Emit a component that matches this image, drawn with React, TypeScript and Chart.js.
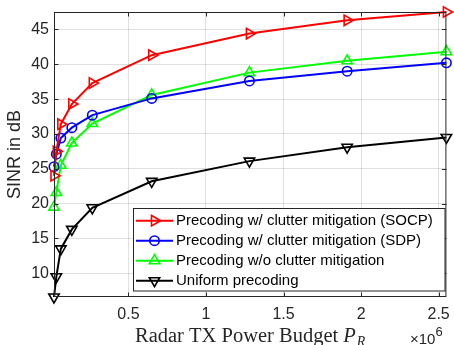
import { useEffect, useRef } from "react";
import { Chart, registerables } from "chart.js";

Chart.register(...registerables);

// ---- data ----
const xValues = [0.02e6, 0.035e6, 0.064e6, 0.135e6, 0.267e6, 0.65e6, 1.28e6, 1.91e6, 2.55e6];
const socp = [24.0, 27.5, 31.4, 34.3, 37.3, 41.3, 44.4, 46.3, 47.5];
const sdp = [25.3, 27.1, 29.4, 30.9, 32.7, 35.1, 37.6, 39.0, 40.2];
const noMitigation = [19.5, 21.6, 25.5, 28.7, 31.5, 35.6, 38.8, 40.5, 41.8];
const uniform = [6.6, 9.5, 13.5, 16.3, 19.4, 23.2, 26.1, 28.1, 29.5];
const seriesLabels = [
  "Precoding w/ clutter mitigation (SOCP)",
  "Precoding w/ clutter mitigation (SDP)",
  "Precoding w/o clutter mitigation",
  "Uniform precoding",
];
const xTicks = [0.5e6, 1e6, 1.5e6, 2e6, 2.5e6];
const yTicks = [10, 15, 20, 25, 30, 35, 40, 45];
const xMin = 0.02e6;
const xMax = 2.55e6;
const yMin = 6.6;
const yMax = 47.5;

const SANS = '"Liberation Sans", Arial, sans-serif';
const SERIF = '"Liberation Serif", "Times New Roman", serif';
const AXIS = "#262626";

function drawMarker(ctx: CanvasRenderingContext2D, style: string, rot: number, r: number, x: number, y: number) {
  ctx.beginPath();
  if (style === "circle") {
    ctx.arc(x, y, r, 0, Math.PI * 2);
  } else {
    let rad = (rot * Math.PI) / 180;
    ctx.moveTo(x + Math.sin(rad) * r, y - Math.cos(rad) * r);
    rad += (2 * Math.PI) / 3;
    ctx.lineTo(x + Math.sin(rad) * r, y - Math.cos(rad) * r);
    rad += (2 * Math.PI) / 3;
    ctx.lineTo(x + Math.sin(rad) * r, y - Math.cos(rad) * r);
    ctx.closePath();
  }
  ctx.stroke();
}

const decorPlugin = {
  id: "matlabDecor",
  afterDraw(chart: any) {
    const { ctx, chartArea: a, scales } = chart;
    const xs = scales.x;
    const ys = scales.y;
    ctx.save();
    // axes box
    ctx.strokeStyle = AXIS;
    ctx.lineWidth = 1;
    ctx.strokeRect(a.left + 0.5, a.top + 0.5, a.right - a.left - 1, a.bottom - a.top - 1);
    // inner ticks
    ctx.beginPath();
    const tl = 4.5;
    xTicks.forEach((v) => {
      const px = Math.round(xs.getPixelForValue(v)) + 0.5;
      ctx.moveTo(px, a.bottom);
      ctx.lineTo(px, a.bottom - tl);
      ctx.moveTo(px, a.top);
      ctx.lineTo(px, a.top + tl);
    });
    yTicks.forEach((v) => {
      const py = Math.round(ys.getPixelForValue(v)) + 0.5;
      ctx.moveTo(a.left, py);
      ctx.lineTo(a.left + tl, py);
      ctx.moveTo(a.right, py);
      ctx.lineTo(a.right - tl, py);
    });
    ctx.stroke();

    // legend
    const lx = 133.5, ly = 208.5, lw = 311.5, lh = 82.5;
    ctx.fillStyle = "#ffffff";
    ctx.fillRect(lx, ly, lw, lh);
    ctx.strokeStyle = AXIS;
    ctx.lineWidth = 1;
    ctx.strokeRect(lx, ly, lw, lh);
    ctx.font = `15px ${SANS}`;
    ctx.textBaseline = "middle";
    ctx.textAlign = "left";
    chart.data.datasets.forEach((ds: any, i: number) => {
      const ry = 220.7 + i * 20;
      ctx.strokeStyle = ds.borderColor;
      ctx.lineWidth = 2;
      ctx.beginPath();
      ctx.moveTo(136, ry);
      ctx.lineTo(173, ry);
      ctx.stroke();
      ctx.lineWidth = ds.pointBorderWidth;
      drawMarker(ctx, ds.pointStyle, ds.pointRotation || 0, ds.pointRadius, 154.5, ry);
      ctx.fillStyle = "#000000";
      ctx.fillText(ds.label, 176, ry + 0.5);
    });

    // x-axis title with math P_R
    ctx.fillStyle = AXIS;
    ctx.textBaseline = "alphabetic";
    const main = "Radar TX Power Budget ";
    ctx.font = `20.5px ${SERIF}`;
    const w1 = ctx.measureText(main).width;
    ctx.font = `italic 20.5px ${SERIF}`;
    const w2 = ctx.measureText("P").width;
    ctx.font = `italic 14px ${SERIF}`;
    const w3 = ctx.measureText("R").width;
    const cx = (a.left + a.right) / 2;
    let sx = cx - (w1 + w2 + w3 + 1) / 2;
    const base = 342;
    ctx.font = `20.5px ${SERIF}`;
    ctx.fillText(main, sx, base);
    sx += w1;
    ctx.font = `italic 20.5px ${SERIF}`;
    ctx.fillText("P", sx, base);
    sx += w2 + 1;
    ctx.font = `italic 14px ${SERIF}`;
    ctx.fillText("R", sx, base + 3.5);

    // exponent
    ctx.font = `15px ${SANS}`;
    ctx.fillStyle = AXIS;
    const ex = 410;
    ctx.fillText("\u00d710", ex, 344);
    const wE = ctx.measureText("\u00d710").width;
    ctx.font = `13px ${SANS}`;
    ctx.fillText("6", ex + wE, 336);
    ctx.restore();
  },
};

export default function App() {
  const ref = useRef<HTMLCanvasElement | null>(null);
  useEffect(() => {
    if (!ref.current) return;
    const mk = (vals: number[]) => vals.map((y, i) => ({ x: xValues[i], y }));
    const common = {
      borderWidth: 2,
      pointBorderWidth: 1.6,
      pointBackgroundColor: "rgba(0,0,0,0)",
      tension: 0,
      fill: false,
      clip: false as any,
    };
    const chart = new Chart(ref.current, {
      type: "line",
      data: {
        datasets: [
          { ...common, label: seriesLabels[0], data: mk(socp), borderColor: "#ff0000", pointBorderColor: "#ff0000", pointStyle: "triangle", pointRotation: 90, pointRadius: 6 },
          { ...common, label: seriesLabels[1], data: mk(sdp), borderColor: "#0000ff", pointBorderColor: "#0000ff", pointStyle: "circle", pointRadius: 4.7 },
          { ...common, label: seriesLabels[2], data: mk(noMitigation), borderColor: "#00ff00", pointBorderColor: "#00ff00", pointStyle: "triangle", pointRotation: 0, pointRadius: 6 },
          { ...common, label: seriesLabels[3], data: mk(uniform), borderColor: "#000000", pointBorderColor: "#000000", pointStyle: "triangle", pointRotation: 180, pointRadius: 6 },
        ] as any,
      },
      options: {
        animation: false,
        responsive: false,
        layout: { padding: { left: 0, right: 6, top: 12, bottom: 0 } },
        plugins: { legend: { display: false }, tooltip: { enabled: false } },
        scales: {
          x: {
            type: "linear",
            min: xMin,
            max: xMax,
            afterBuildTicks: (s: any) => {
              s.ticks = xTicks.map((v) => ({ value: v }));
            },
            afterFit: (s: any) => {
              s.height = 48;
              s.paddingLeft = 0;
              s.paddingRight = 0;
            },
            grid: { color: "rgba(38,38,38,0.14)", drawTicks: false },
            border: { display: false },
            ticks: {
              padding: 8,
              color: AXIS,
              font: { family: SANS, size: 16 },
              maxRotation: 0,
              autoSkip: false,
              callback: (v: any) => String(Number(v) / 1e6),
            },
          },
          y: {
            type: "linear",
            min: yMin,
            max: yMax,
            afterBuildTicks: (s: any) => {
              s.ticks = yTicks.map((v) => ({ value: v }));
            },
            afterFit: (s: any) => {
              s.width = 54;
              s.paddingTop = 0;
              s.paddingBottom = 0;
            },
            grid: { color: "rgba(38,38,38,0.14)", drawTicks: false },
            border: { display: false },
            title: {
              display: true,
              text: "SINR in dB",
              color: AXIS,
              font: { family: SANS, size: 18 },
              padding: { top: 4, bottom: 0 },
            },
            ticks: {
              padding: 5,
              color: AXIS,
              font: { family: SANS, size: 16 },
              autoSkip: false,
              callback: (v: any) => String(v),
            },
          },
        },
      },
      plugins: [decorPlugin],
    });
    return () => chart.destroy();
  }, []);
  return (
    <div style={{ position: "fixed", left: 0, top: 0, width: 454, height: 345, background: "#fff" }}>
      <canvas ref={ref} width={454} height={345} style={{ display: "block" }} />
    </div>
  );
}
